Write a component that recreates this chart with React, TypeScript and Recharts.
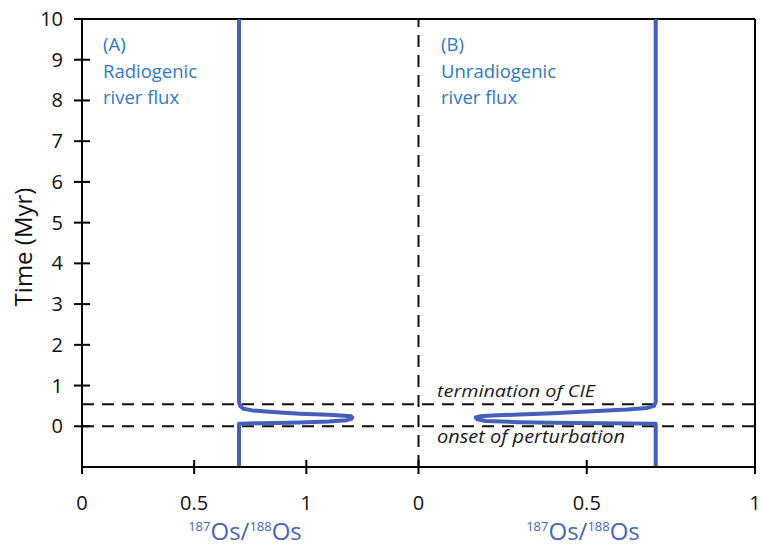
import React from "react";
import {
  ComposedChart,
  Line,
  XAxis,
  YAxis,
  ReferenceLine,
  Customized,
} from "recharts";

// time axis (Myr)
const timeTicks = [0, 1, 2, 3, 4, 5, 6, 7, 8, 9, 10];

// panel A (radiogenic river flux), 187Os/188Os vs time
const radioOs = [0.7, 0.7, 0.705, 0.72, 0.76, 0.85, 0.97, 1.1, 1.17, 1.2, 1.205, 1.2, 1.18, 1.1, 0.97, 0.8, 0.7, 0.7];
const radioTime = [10, 0.6, 0.5, 0.43, 0.39, 0.35, 0.31, 0.28, 0.26, 0.245, 0.215, 0.18, 0.15, 0.12, 0.095, 0.075, 0.065, -1];

// panel B (unradiogenic river flux)
const unradioOs = [0.705, 0.705, 0.7, 0.68, 0.62, 0.5, 0.4, 0.3, 0.22, 0.185, 0.17, 0.175, 0.2, 0.3, 0.4, 0.55, 0.7, 0.705, 0.705];
const unradioTime = [10, 0.6, 0.5, 0.45, 0.41, 0.36, 0.32, 0.29, 0.265, 0.245, 0.215, 0.17, 0.13, 0.1, 0.085, 0.075, 0.065, 0.065, -1];

// x ticks: panel A at 0..1.5, panel B squeezed onto 1.5..3
const osTicksA = [0, 0.5, 1];
const osTicksB = [0, 0.5, 1];

const onsetTime = 0;
const terminationTime = 0.54;

const toPanelB = (v: number) => 1.5 + v * 1.5;

const seriesA = radioOs.map((v, i) => ({ x: v, t: radioTime[i] }));
const seriesB = unradioOs.map((v, i) => ({ x: toPanelB(v), t: unradioTime[i] }));

const xTicks = [...osTicksA, ...osTicksB.map(toPanelB)];
const xTickLabels = [...osTicksA, ...osTicksB].map(String);

const FONT = "'Open Sans', 'Noto Sans', sans-serif";
const CURVE = "#4560bb";
const NOTE = "#2f79bf";

const XTick = (props: any) => {
  const { x, y, index } = props;
  return (
    <g>
      <line x1={x} x2={x} y1={y - 7} y2={y + 7} stroke="#000" strokeWidth={2} />
      <text x={x} y={y + 43} textAnchor="middle" fontSize={20} fontFamily={FONT} fill="#111">
        {xTickLabels[index]}
      </text>
    </g>
  );
};

const YTick = (props: any) => {
  const { x, y, payload } = props;
  return (
    <g>
      <line x1={x - 8} x2={x + 8} y1={y} y2={y} stroke="#000" strokeWidth={2} />
      <text x={x - 19} y={y + 7} textAnchor="end" fontSize={20} fontFamily={FONT} fill="#111">
        {payload.value}
      </text>
    </g>
  );
};

const OsTitle = ({ cx }: { cx: number }) => (
  <g fontFamily={FONT} fill="#4a65b8">
    <text x={cx} y={540} textAnchor="middle">
      <tspan fontSize={13} dy={-9}>187</tspan>
      <tspan fontSize={24} dy={9}>Os/</tspan>
      <tspan fontSize={13} dy={-9}>188</tspan>
      <tspan fontSize={24} dy={9}>Os</tspan>
    </text>
  </g>
);

const Annotations = () => (
  <g fontFamily={FONT}>
    <text fontSize={18.5} fill={NOTE}>
      <tspan x={103} y={51}>(A)</tspan>
      <tspan x={103} y={78}>Radiogenic</tspan>
      <tspan x={103} y={104}>river flux</tspan>
    </text>
    <text fontSize={18.5} fill={NOTE}>
      <tspan x={441} y={51}>(B)</tspan>
      <tspan x={441} y={78}>Unradiogenic</tspan>
      <tspan x={441} y={104}>river flux</tspan>
    </text>
    <text
      x={437}
      y={397}
      fontSize={17}
      fontStyle="italic"
      fill="#1a1a1a"
      textLength={158}
      lengthAdjust="spacingAndGlyphs"
    >
      termination of CIE
    </text>
    <text
      x={437}
      y={443}
      fontSize={17.5}
      fontStyle="italic"
      fill="#1a1a1a"
      textLength={188}
      lengthAdjust="spacingAndGlyphs"
    >
      onset of perturbation
    </text>
    <text
      x={0}
      y={0}
      transform="translate(32 247) rotate(-90)"
      textAnchor="middle"
      fontSize={24}
      fill="#111"
    >
      Time (Myr)
    </text>
    <OsTitle cx={245} />
    <OsTitle cx={583} />
  </g>
);

export default function App() {
  return (
    <div style={{ position: "absolute", left: 0, top: 0, background: "#fff" }}>
      <ComposedChart
        width={763}
        height={546}
        margin={{ top: 19, right: 8, left: 0, bottom: 0 }}
      >
        <XAxis
          type="number"
          dataKey="x"
          domain={[0, 3]}
          ticks={xTicks}
          allowDataOverflow
          height={79}
          tickSize={0}
          tickMargin={0}
          tickLine={false}
          axisLine={{ stroke: "#000", strokeWidth: 2 }}
          tick={<XTick />}
          interval={0}
        />
        <YAxis
          type="number"
          dataKey="t"
          domain={[-1, 10]}
          ticks={timeTicks}
          allowDataOverflow
          width={82}
          tickSize={0}
          tickMargin={0}
          tickLine={false}
          axisLine={{ stroke: "#000", strokeWidth: 2 }}
          tick={<YTick />}
          interval={0}
        />
        <ReferenceLine y={10} stroke="#000" strokeWidth={2} />
        <ReferenceLine x={3} stroke="#000" strokeWidth={2} />
        <ReferenceLine x={1.5} stroke="#111" strokeWidth={2} strokeDasharray="12 8" />
        <ReferenceLine y={onsetTime} stroke="#111" strokeWidth={2} strokeDasharray="12 8" />
        <ReferenceLine y={terminationTime} stroke="#111" strokeWidth={2} strokeDasharray="12 8" />
        <Line
          data={seriesA}
          dataKey="t"
          type="linear"
          stroke={CURVE}
          strokeWidth={4}
          dot={false}
          activeDot={false}
          strokeLinejoin="round"
          isAnimationActive={false}
        />
        <Line
          data={seriesB}
          dataKey="t"
          type="linear"
          stroke={CURVE}
          strokeWidth={4}
          dot={false}
          activeDot={false}
          strokeLinejoin="round"
          isAnimationActive={false}
        />
        <Customized component={Annotations} />
      </ComposedChart>
    </div>
  );
}
